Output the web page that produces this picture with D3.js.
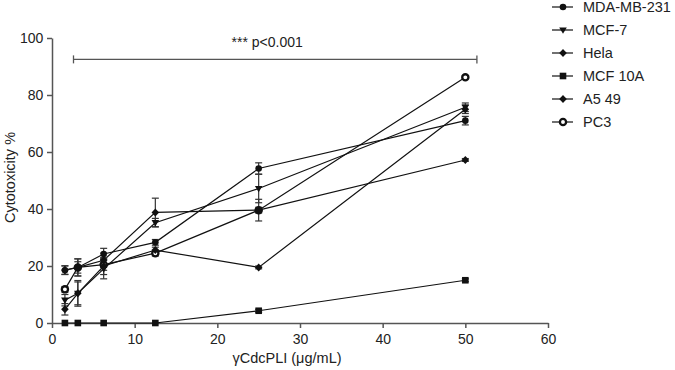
<!DOCTYPE html>
<html>
<head>
<meta charset="utf-8">
<script src="https://cdn.jsdelivr.net/npm/d3@7"></script>
<style>
  body { margin: 0; background: #fff; }
  svg { font-family: "Liberation Sans", Arial, sans-serif; }
</style>
</head>
<body>
<div id="chart"></div>
<script>
// 浓度 (μg/mL)
const doses = [1.5625, 3.125, 6.25, 12.5, 25, 50];

const seriesNames = ['MDA-MB-231', 'MCF-7', 'Hela', 'MCF 10A', 'A5 49', 'PC3'];
const seriesSymbols = ['circle', 'triangle', 'diamond', 'square', 'diamond', 'open'];

const mdaValues   = [18.5, 19.5, 24.2, 28.3, 54.2, 71.0];
const mdaErrors   = [1.5, 2.0, 2.0, 1.0, 2.0, 1.5];
const mcf7Values  = [8.0, 10.4, 19.0, 35.2, 47.2, 75.7];
const mcf7Errors  = [2.0, 4.5, 3.5, 1.5, 5.0, 1.5];
const helaValues  = [18.6, 19.5, 22.0, 38.8, 39.6, 57.2];
const helaErrors  = [1.5, 3.0, 2.5, 5.0, 1.0, 0.5];
const mcf10aValues = [0, 0, 0, 0, 4.3, 15.0];
const mcf10aErrors = [0, 0, 0, 0, 0.5, 0.5];
const a549Values  = [4.8, 10.4, 20.0, 25.6, 19.5, 75.0];
const a549Errors  = [2.0, 4.0, 3.0, 1.0, 0.5, 1.5];
const pc3Values   = [11.8, 19.5, 20.5, 24.5, 39.6, 86.2];
const pc3Errors   = [1.0, 3.0, 2.0, 1.0, 3.8, 0.5];

const allValues = [mdaValues, mcf7Values, helaValues, mcf10aValues, a549Values, pc3Values];
const allErrors = [mdaErrors, mcf7Errors, helaErrors, mcf10aErrors, a549Errors, pc3Errors];

const xTicks = [0, 10, 20, 30, 40, 50, 60];
const yTicks = [0, 20, 40, 60, 80, 100];

// 显著性标注
const sigRange = [2.6, 51.4];
const sigLevel = 92.5;
const sigText = '*** p<0.001';

const width = 675, height = 370;
const margin = { top: 38, right: 127, bottom: 47, left: 52 };
const innerW = width - margin.left - margin.right;
const innerH = height - margin.top - margin.bottom;
const axisColor = '#555';

const svg = d3.select('#chart').append('svg').attr('width', width).attr('height', height);
const g = svg.append('g').attr('transform', `translate(${margin.left},${margin.top})`);

const x = d3.scaleLinear().domain([0, 60]).range([0, innerW]);
const y = d3.scaleLinear().domain([0, 100]).range([innerH, 0]);

// 坐标轴
const xAxis = g.append('g').attr('transform', `translate(0,${innerH})`)
  .call(d3.axisBottom(x).tickValues(xTicks).tickSize(5).tickSizeOuter(0));
const yAxis = g.append('g')
  .call(d3.axisLeft(y).tickValues(yTicks).tickSize(5).tickSizeOuter(0));
[xAxis, yAxis].forEach(a => {
  a.select('.domain').attr('stroke', axisColor).attr('stroke-width', 1.5);
  a.selectAll('.tick line').attr('stroke', axisColor).attr('stroke-width', 1.5);
  a.selectAll('.tick text').attr('fill', '#222').style('font-size', '14px');
});
xAxis.selectAll('.tick text').attr('dy', '0.9em');
yAxis.selectAll('.tick text').attr('dx', '-0.05em');

svg.append('text').attr('x', margin.left + x(30) - 13).attr('y', 363)
  .attr('text-anchor', 'middle').style('font-size', '14.5px').attr('fill', '#222')
  .text('γCdcPLI (μg/mL)');
svg.append('text').attr('transform', `translate(15,${margin.top + innerH / 2 - 3}) rotate(-90)`)
  .attr('text-anchor', 'middle').style('font-size', '14.5px').attr('fill', '#222')
  .text('Cytotoxicity %');

// 标记绘制
function drawMarker(sel, type) {
  if (type === 'circle') {
    sel.append('circle').attr('r', 3.3).attr('fill', '#111');
  } else if (type === 'open') {
    sel.append('circle').attr('r', 3.1).attr('fill', '#fff').attr('stroke', '#111').attr('stroke-width', 2.3);
  } else if (type === 'triangle') {
    sel.append('path').attr('d', 'M-3.8,-2.6L3.8,-2.6L0,3.8Z').attr('fill', '#111');
  } else if (type === 'diamond') {
    sel.append('path').attr('d', 'M0,-4L3.8,0L0,4L-3.8,0Z').attr('fill', '#111');
  } else if (type === 'square') {
    sel.append('rect').attr('x', -3.3).attr('y', -3.3).attr('width', 6.6).attr('height', 6.6).attr('fill', '#111');
  }
}

const line = d3.line().x(d => x(d.dose)).y(d => y(d.value));

seriesNames.forEach((name, i) => {
  const pts = doses.map((dose, j) => ({ dose, value: allValues[i][j], err: allErrors[i][j] }));
  g.append('path').datum(pts).attr('fill', 'none').attr('stroke', '#111').attr('stroke-width', 1.2).attr('d', line);

  // 误差线
  pts.filter(d => d.err > 0).forEach(d => {
    const eb = g.append('g').attr('stroke', '#333').attr('stroke-width', 1.2);
    eb.append('line').attr('x1', x(d.dose)).attr('x2', x(d.dose)).attr('y1', y(d.value - d.err)).attr('y2', y(d.value + d.err));
    [d.value - d.err, d.value + d.err].forEach(v => {
      eb.append('line').attr('x1', x(d.dose) - 3.5).attr('x2', x(d.dose) + 3.5).attr('y1', y(v)).attr('y2', y(v));
    });
  });
});

// 逆序绘制标记，PC3 在最底层
seriesNames.map((n, i) => i).reverse().forEach(i => {
  doses.forEach((dose, j) => {
    const m = g.append('g').attr('transform', `translate(${x(dose)},${y(allValues[i][j])})`);
    drawMarker(m, seriesSymbols[i]);
  });
});

// 显著性括号
const sig = g.append('g').attr('stroke', axisColor).attr('stroke-width', 1.3);
sig.append('line').attr('x1', x(sigRange[0])).attr('x2', x(sigRange[1])).attr('y1', y(sigLevel)).attr('y2', y(sigLevel));
sigRange.forEach(v => {
  sig.append('line').attr('x1', x(v)).attr('x2', x(v)).attr('y1', y(sigLevel) - 4).attr('y2', y(sigLevel) + 4);
});
g.append('text').attr('x', x((sigRange[0] + sigRange[1]) / 2) - 8).attr('y', y(sigLevel) - 12)
  .attr('text-anchor', 'middle').style('font-size', '14px').attr('fill', '#222').text(sigText);

// 图例
const legend = svg.append('g').attr('transform', 'translate(552,7)');
seriesNames.forEach((name, i) => {
  const row = legend.append('g').attr('transform', `translate(0,${i * 23})`);
  row.append('line').attr('x1', 0).attr('x2', 21).attr('stroke', '#111').attr('stroke-width', 1.2);
  drawMarker(row.append('g').attr('transform', 'translate(11,0)'), seriesSymbols[i]);
  row.append('text').attr('x', 31).attr('y', 0).attr('dy', '0.35em')
    .style('font-size', '14.5px').attr('fill', '#222').text(name);
});
</script>
</body>
</html>
